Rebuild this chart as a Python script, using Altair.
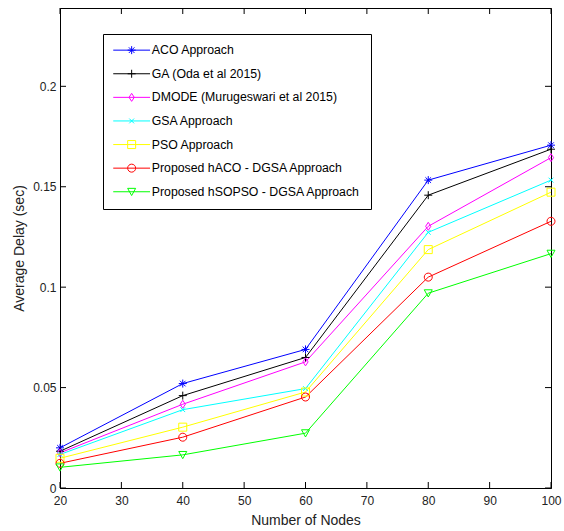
import altair as alt
import pandas as pd

nodes = [20, 40, 60, 80, 100]
methods = [
    "ACO Approach",
    "GA (Oda et al 2015)",
    "DMODE (Murugeswari et al 2015)",
    "GSA Approach",
    "PSO Approach",
    "Proposed hACO - DGSA Approach",
    "Proposed hSOPSO - DGSA Approach",
]
aco = [0.0200, 0.0520, 0.0690, 0.1533, 0.1707]
ga = [0.0183, 0.0460, 0.0650, 0.1458, 0.1687]
dmode = [0.0175, 0.0417, 0.0628, 0.1303, 0.1645]
gsa = [0.0167, 0.0390, 0.0495, 0.1273, 0.1533]
pso = [0.0148, 0.0303, 0.0478, 0.1187, 0.1473]
haco = [0.0123, 0.0253, 0.0453, 0.1050, 0.1328]
hsopso = [0.0103, 0.0165, 0.0273, 0.0970, 0.1167]
series = [aco, ga, dmode, gsa, pso, haco, hsopso]

colors = ["#0000ff", "#000000", "#ff00ff", "#00ffff", "#ffff00", "#ff0000", "#00ff00"]
markers = [
    "M-1,0L1,0M0,-1L0,1M-0.7,-0.7L0.7,0.7M-0.7,0.7L0.7,-0.7",
    "M-1,0L1,0M0,-1L0,1",
    "M0,-1L0.65,0L0,1L-0.65,0Z",
    "M-0.6,-0.6L0.6,0.6M-0.6,0.6L0.6,-0.6",
    "M-1,-1L1,-1L1,1L-1,1Z",
    "M-1,0A1,1,0,1,0,1,0A1,1,0,1,0,-1,0Z",
    "M-1,-0.85L1,-0.85L0,0.95Z",
]
# legend symbols: a line segment with the marker in its middle
legend_shapes = ["M-4.6,0L4.6,0" + m for m in markers]
x_ticks = [20, 30, 40, 50, 60, 70, 80, 90, 100]
y_ticks = [0, 0.05, 0.1, 0.15, 0.2]

rows = []
for m, vals in zip(methods, series):
    for n, v in zip(nodes, vals):
        rows.append({"Nodes": n, "Delay": v, "Method": m})
df = pd.DataFrame(rows)

W, H = 491, 480
FONT = "Liberation Sans"
TXT = "#222222"
X_TITLE = "Number of Nodes"
Y_TITLE = "Average Delay (sec)"
x_scale = alt.Scale(domain=[20, 100], nice=False, zero=False)
y_scale = alt.Scale(domain=[0, 0.239], nice=False)
x_axis = alt.Axis(values=x_ticks, format="d", tickSize=0, labelPadding=7,
                  labelFlush=False, titlePadding=7, grid=False)
y_axis = alt.Axis(values=y_ticks, format="~g", tickSize=0, labelPadding=4,
                  labelFlush=False, titlePadding=6, grid=False)

x_enc = alt.X("Nodes:Q", scale=x_scale, title=X_TITLE, axis=x_axis)
y_enc = alt.Y("Delay:Q", scale=y_scale, title=Y_TITLE, axis=y_axis)

base = alt.Chart(df).encode(x=x_enc, y=y_enc)
cscale = alt.Scale(domain=methods, range=colors)

lines = base.mark_line(strokeWidth=1).encode(
    color=alt.Color("Method:N", scale=cscale, sort=methods, legend=None)
)
points = base.mark_point(filled=False, size=64, strokeWidth=1, opacity=1).encode(
    color=alt.Color("Method:N", scale=cscale, sort=methods, legend=None),
    shape=alt.Shape("Method:N", scale=alt.Scale(domain=methods, range=markers),
                    sort=methods, legend=None),
)

legend = alt.Legend(
    orient="none", legendX=43, legendY=26, title=None,
    strokeColor="black", fillColor="white", padding=10,
    symbolSize=64, symbolStrokeWidth=1, symbolOpacity=1, symbolFillColor="transparent",
    symbolOffset=12.5, labelOffset=14, labelLimit=0,
    labelFont=FONT, labelFontSize=12.3, labelColor="black",
    rowPadding=10.6,
)
legend_layer = base.mark_point(filled=False, size=64, strokeWidth=1, opacity=0).encode(
    color=alt.Color("Method:N", scale=cscale, sort=methods, legend=legend),
    shape=alt.Shape("Method:N", scale=alt.Scale(domain=methods, range=legend_shapes),
                    sort=methods, legend=legend),
)

ydf = pd.DataFrame({"Delay": y_ticks})
xdf = pd.DataFrame({"Nodes": x_ticks})
tick_style = dict(color="black", strokeWidth=1)
left_ticks = alt.Chart(ydf).mark_rule(**tick_style).encode(
    y=y_enc, x=alt.value(0), x2=alt.value(6))
right_ticks = alt.Chart(ydf).mark_rule(**tick_style).encode(
    y=y_enc, x=alt.value(W - 6), x2=alt.value(W))
bottom_ticks = alt.Chart(xdf).mark_rule(**tick_style).encode(
    x=x_enc, y=alt.value(H), y2=alt.value(H - 6))
top_ticks = alt.Chart(xdf).mark_rule(**tick_style).encode(
    x=x_enc, y=alt.value(0), y2=alt.value(6))

chart = alt.layer(
    lines, points, legend_layer, left_ticks, right_ticks, bottom_ticks, top_ticks
).resolve_scale(color="independent", shape="independent").properties(
    width=W, height=H,
    autosize=alt.AutoSizeParams(type="none"),
    padding={"left": 60, "top": 8, "right": 13, "bottom": 43},
    background="white",
).configure_view(
    stroke="black", strokeWidth=1
).configure_axis(
    domainColor="black", domainWidth=1,
    labelFont=FONT, labelFontSize=12, labelColor=TXT,
    titleFont=FONT, titleFontSize=14, titleColor=TXT, titleFontWeight="normal",
)

chart.save("out.html", embed_options={"renderer": "svg", "actions": False})
